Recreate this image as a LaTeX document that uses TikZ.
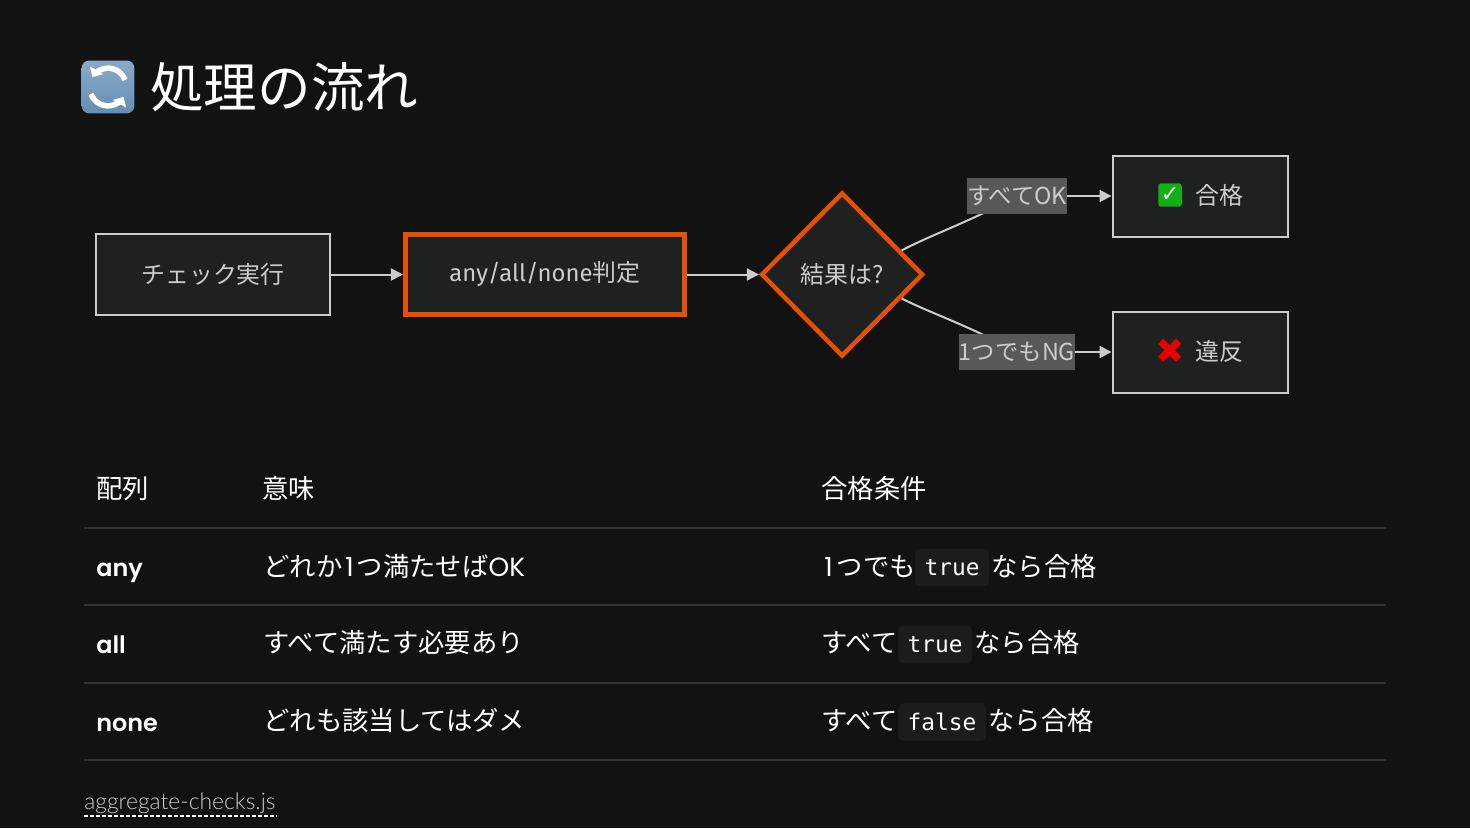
\documentclass[tikz,border=0pt]{standalone}
\usepackage{fontspec}
\usepackage{xcolor}
\setmainfont{Noto Sans CJK JP}
\newfontfamily\firafont{Fira Sans}
\newfontfamily\headfont{Poppins}
\newfontfamily\keyfont{Poppins SemiBold}
\newfontfamily\footfont{Lato Light}
\newfontfamily\codefont{DejaVu Sans Mono}
\newfontfamily\symfont{DejaVu Sans}
\usetikzlibrary{arrows.meta,positioning,calc,shapes.geometric}
\definecolor{slideBg}{RGB}{18,18,18}
\definecolor{boxFill}{RGB}{31,32,32}
\definecolor{boxLine}{RGB}{204,204,204}
\definecolor{boxOrange}{RGB}{230,81,0}
\definecolor{labelGray}{RGB}{88,88,88}
\definecolor{ruleGray}{RGB}{51,51,51}
\definecolor{codeFill}{RGB}{28,28,28}
\definecolor{iconBlue}{RGB}{100,142,180}
\definecolor{iconGreen}{RGB}{18,176,18}
\definecolor{iconRed}{RGB}{230,0,0}
\tikzset{
  flowbox/.style={draw=boxLine,line width=0.04cm,fill=boxFill,text=boxLine,font=\fontsize{13.6}{16}\selectfont,minimum width=4.68cm,minimum height=1.61cm,inner sep=0pt},
  hotbox/.style={flowbox,draw=boxOrange,line width=0.1cm,minimum width=5.58cm,minimum height=1.6cm},
  hotdiamond/.style={diamond,draw=boxOrange,line width=0.09cm,fill=boxFill,text=boxLine,font=\fontsize{13.6}{16}\selectfont,minimum width=3.24cm,minimum height=3.28cm,inner sep=0pt},
  edgelabel/.style={fill=labelGray,text=boxLine,font=\fontsize{13.3}{16}\selectfont,inner xsep=0pt,inner ysep=0pt,minimum height=0.72cm},
  flowline/.style={draw=boxLine,line width=0.04cm},
  flowarrow/.style={flowline,-{Triangle[length=0.24cm,width=0.24cm,fill=boxLine]}},
  celltext/.style={anchor=west,inner sep=0pt,text=white,font=\fontsize{15}{18}\selectfont,text height=0.4cm,text depth=0.1cm},
  keytext/.style={celltext,font=\keyfont\fontsize{13.6}{18}\selectfont},
  codepill/.style={fill=codeFill,rounded corners=0.1cm,text=white,font=\codefont\fontsize{13}{16}\selectfont,minimum height=0.75cm,inner sep=0pt},
  tablerule/.style={draw=ruleGray,line width=0.03cm}
}
\begin{document}
\begin{tikzpicture}[x=0.02cm,y=-0.02cm]
\fill[slideBg] (0,0) rectangle (1470,828);
\useasboundingbox (0,0) rectangle (1470,828);
% title
\node[rounded corners=0.16cm,minimum size=1.06cm,inner sep=0pt,top color=iconBlue!75!white,bottom color=iconBlue] (icon) at (108,87) {};
\draw[white,line width=0.11cm,-{Triangle[length=0.16cm,width=0.3cm]}] (125,80) arc (-20:-150:18);
\draw[white,line width=0.11cm,-{Triangle[length=0.16cm,width=0.3cm]}] (91,94) arc (160:30:18);
\node[anchor=west,inner sep=0pt,text=white,font=\fontsize{30.5}{36}\selectfont] (title) at (150,87) {処理の流れ};
% flow
\node[flowbox] (start) at (213,274.5) {チェック実行};
\node[hotbox,right=1.44cm of start] (judge) {{\firafont any/all/none}判定};
\node[hotdiamond,right=1.44cm of judge] (result) {結果は?};
\node[flowbox,minimum width=3.5cm] (pass) at (1200,196.5) {};
\node[flowbox,minimum width=3.5cm] (fail) at (1200,352.5) {};
\node[anchor=west,inner sep=0pt,text=boxLine,font=\fontsize{13.6}{16}\selectfont] (passtext) at (1195,195) {合格};
\node[anchor=west,inner sep=0pt,text=boxLine,font=\fontsize{13.6}{16}\selectfont] (failtext) at (1195,351) {違反};
\node[fill=iconGreen,rounded corners=0.06cm,minimum size=0.47cm,inner sep=0pt,text=white,font=\symfont\fontsize{12.5}{12.5}\selectfont] (passicon) at (1170,195) {✓};
\node[inner sep=0pt,text=iconRed,font=\symfont\fontsize{20}{20}\selectfont] (failicon) at (1170,351) {✖};
\draw[flowarrow] (start) -- (judge);
\draw[flowarrow] (judge) -- (result);
\draw[flowline] (result.22) .. controls (935,233) and (965,224) .. (1017,196);
\draw[flowline] (result.-22) .. controls (935,315) and (965,324) .. (1017,352);
\node[edgelabel,minimum width=2cm] (oklabel) at (1017,196) {すべてOK};
\node[edgelabel,minimum width=2.32cm] (nglabel) at (1017,352) {1つでもNG};
\draw[flowarrow] (oklabel) -- (oklabel -| pass.west);
\draw[flowarrow] (nglabel) -- (nglabel -| fail.west);
% table
\node[celltext] (headA) at (96,491) {配列};
\node[celltext] (headB) at (262,491) {意味};
\node[celltext] (headC) at (821,491) {合格条件};
\node[keytext] (anykey) at (96,569) {any};
\node[celltext] (anytext) at (263,569) {どれか{\headfont\hspace{0.06cm}1\hspace{0.06cm}}つ満たせば{\headfont OK}};
\node[celltext] (anycond) at (822,569) {{\headfont\hspace{0.04cm}1\hspace{0.08cm}}つでも};
\node[codepill,minimum width=1.48cm] (anycode) at (952,567.5) {true};
\node[celltext] (anyrest) at (991,569) {なら合格};
\node[keytext] (allkey) at (96,646) {all};
\node[celltext] (alltext) at (263,645) {すべて満たす必要あり};
\node[celltext] (allcond) at (821,645) {すべて};
\node[codepill,minimum width=1.48cm] (allcode) at (935,644.5) {true};
\node[celltext] (allrest) at (974,645) {なら合格};
\node[keytext] (nonekey) at (96,724) {none};
\node[celltext] (nonetext) at (263,723) {どれも該当してはダメ};
\node[celltext] (nonecond) at (821,723) {すべて};
\node[codepill,minimum width=1.76cm] (nonecode) at (942,722) {false};
\node[celltext] (nonerest) at (988,723) {なら合格};
\draw[tablerule] (84,528) -- (1386,528);
\draw[tablerule] (84,605) -- (1386,605);
\draw[tablerule] (84,683) -- (1386,683);
\draw[tablerule] (84,760) -- (1386,760);
% footer
\node[anchor=west,inner sep=0pt,text=boxLine,font=\footfont\fontsize{13}{16}\selectfont] (source) at (84,803) {aggregate-checks.js};
\coordinate (sourceL) at (84,816);
\coordinate (sourceR) at (276,816);
\draw[white,line width=0.024cm,dash pattern=on 0.08cm off 0.04cm] (sourceL) -- (sourceR);
\end{tikzpicture}
\end{document}
